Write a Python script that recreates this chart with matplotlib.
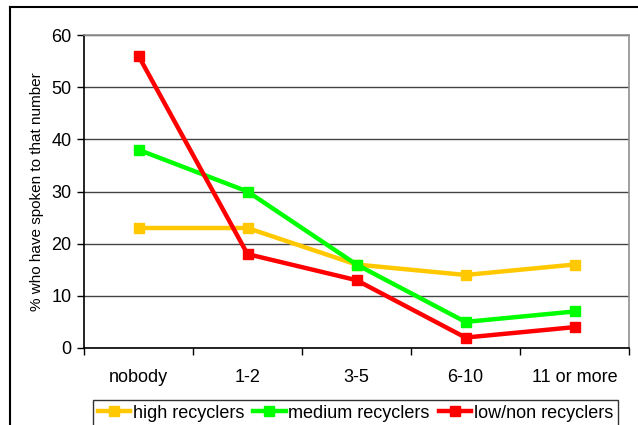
import matplotlib
matplotlib.use("Agg")
import matplotlib.pyplot as plt
from matplotlib.lines import Line2D

categories = ["nobody", "1-2", "3-5", "6-10", "11 or more"]
high = [23, 23, 16, 14, 16]
medium = [38, 30, 16, 5, 7]
low = [56, 18, 13, 2, 4]
series_names = ["high recyclers", "medium recyclers", "low/non recyclers"]
colors = ["#FFC800", "#00FF00", "#FF0000"]

plt.rcParams["font.family"] = ["Liberation Sans", "DejaVu Sans"]

W, H = 638, 425
fig = plt.figure(figsize=(W / 100, H / 100), dpi=100)
ax = fig.add_axes([84 / W, 1 - 348 / H, (629 - 84) / W, (348 - 35) / H])

x = list(range(len(categories)))
for vals, name, c in zip([high, medium, low], series_names, colors):
    ax.plot(x, vals, color=c, lw=3.2, marker="s", ms=7.5, label=name,
            solid_joinstyle="miter", zorder=3)

ax.set_xlim(-0.5, len(categories) - 0.5)
ax.set_ylim(0, 60)
ax.set_yticks(range(0, 61, 10))
ax.set_xticks(x)
ax.set_xticklabels(categories, fontsize=13)
ax.tick_params(axis="x", length=0, pad=15)
ax.set_xticks([i - 0.5 for i in range(len(categories) + 1)], minor=True)
ax.tick_params(axis="x", which="minor", length=5, width=1, direction="out", color="black")
ax.tick_params(axis="y", length=5, width=1, labelsize=13, direction="out", pad=4)
ax.yaxis.grid(True, color="#444444", lw=1)
ax.set_axisbelow(True)

for side in ["top", "right"]:
    ax.spines[side].set_color("#909090")
    ax.spines[side].set_linewidth(1.2)
for side in ["left", "bottom"]:
    ax.spines[side].set_color("black")
    ax.spines[side].set_linewidth(1.2)

ax.set_ylabel("% who have spoken to that number", fontsize=11, labelpad=5)

leg = fig.legend(loc="upper left", bbox_to_anchor=(93 / W, 1 - 400 / H),
                 ncol=3, fontsize=13, frameon=True, fancybox=False,
                 borderaxespad=0, handlelength=1.8, handletextpad=0.15,
                 columnspacing=0.5, borderpad=0.25, markerscale=1.0)
leg.get_frame().set_edgecolor("black")
leg.get_frame().set_linewidth(1)

# chart frame lines at top and left
fig.add_artist(Line2D([10 / W, 1], [1 - 7 / H, 1 - 7 / H], color="black", lw=1.5,
                      transform=fig.transFigure))
fig.add_artist(Line2D([10 / W, 10 / W], [0, 1 - 7 / H], color="black", lw=1.5,
                      transform=fig.transFigure))

fig.savefig("out.png", dpi=100)
